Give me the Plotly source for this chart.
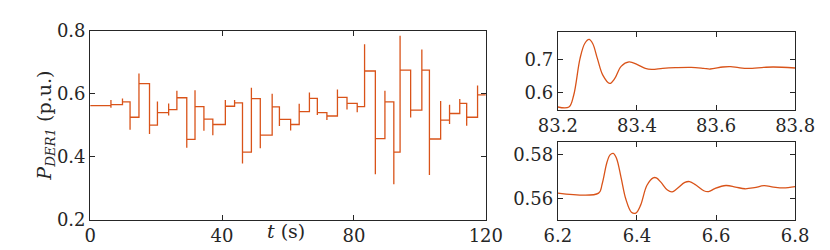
import plotly.graph_objects as go

# step events of the DER1 power reference (t in s, values in p.u.)
step_times = [6.3, 9.8, 12.1, 14.8, 18.0, 20.4, 23.8, 26.3, 29.3, 31.8, 34.5, 37.2,
              41.0, 43.8, 46.2, 48.9, 51.6, 55.2, 57.4, 60.8, 63.4, 66.5, 68.9, 71.8,
              75.0, 77.9, 81.0, 83.23, 86.5, 89.4, 92.1, 94.0, 97.2, 100.6, 102.9,
              106.3, 109.0, 112.1, 114.2, 117.5]
initial_level = 0.562
step_levels = [0.565, 0.574, 0.525, 0.632, 0.500, 0.540, 0.549, 0.587, 0.455, 0.559, 0.519, 0.502,
               0.560, 0.571, 0.414, 0.584, 0.468, 0.558, 0.518, 0.502, 0.543, 0.585, 0.540, 0.529,
               0.588, 0.569, 0.559, 0.672, 0.457, 0.574, 0.414, 0.675, 0.548, 0.675, 0.456,
               0.516, 0.537, 0.569, 0.525, 0.596]
spike_high = [0.580, 0.585, 0.574, 0.664, 0.632, 0.575, 0.569, 0.609, 0.587, 0.611, 0.548, 0.519,
              0.580, 0.580, 0.571, 0.619, 0.584, 0.600, 0.558, 0.518, 0.568, 0.604, 0.585, 0.540,
              0.613, 0.588, 0.569, 0.757, 0.672, 0.609, 0.574, 0.784, 0.675, 0.740, 0.675,
              0.577, 0.565, 0.583, 0.569, 0.626]
spike_low = [0.555, 0.565, 0.485, 0.525, 0.472, 0.500, 0.531, 0.549, 0.428, 0.455, 0.482, 0.468,
             0.502, 0.560, 0.378, 0.414, 0.427, 0.468, 0.497, 0.483, 0.502, 0.543, 0.532, 0.516,
             0.529, 0.550, 0.541, 0.559, 0.344, 0.457, 0.312, 0.414, 0.524, 0.548, 0.342,
             0.456, 0.504, 0.537, 0.498, 0.525]
t_end = 120

# zoom on the step near t = 83.2 s
zoom1_t = [83.2, 83.228, 83.240, 83.256, 83.268, 83.279, 83.288, 83.300, 83.314, 83.331,
           83.344, 83.360, 83.380, 83.401, 83.421, 83.437, 83.465, 83.497, 83.537, 83.569,
           83.585, 83.617, 83.637, 83.657, 83.681, 83.721, 83.745, 83.8]
zoom1_p = [0.558, 0.558, 0.593, 0.702, 0.747, 0.759, 0.747, 0.702, 0.652, 0.628,
           0.643, 0.679, 0.692, 0.684, 0.673, 0.670, 0.673, 0.675, 0.676, 0.673,
           0.671, 0.677, 0.678, 0.675, 0.673, 0.676, 0.677, 0.674]

# zoom on the step near t = 6.3 s
zoom2_t = [6.2, 6.303, 6.312, 6.324, 6.332, 6.340, 6.348, 6.360, 6.372, 6.386, 6.397,
           6.409, 6.425, 6.441, 6.449, 6.461, 6.477, 6.489, 6.501, 6.521, 6.533, 6.549,
           6.569, 6.581, 6.597, 6.625, 6.649, 6.673, 6.697, 6.721, 6.745, 6.770, 6.8]
zoom2_p = [0.5625, 0.5625, 0.5667, 0.5765, 0.5800, 0.5807, 0.5786, 0.5695, 0.5597, 0.5538, 0.5534,
           0.5569, 0.5660, 0.5695, 0.5695, 0.5674, 0.5639, 0.5631, 0.5645, 0.5674, 0.5678, 0.5662,
           0.5636, 0.5632, 0.5646, 0.5660, 0.5653, 0.5645, 0.5650, 0.5659, 0.5653, 0.5649, 0.5655]

line_color = '#D95319'
axis_color = '#262626'
font_family = 'DejaVu Serif'

# build the stepped trace: vertical spike at every step time
t_main = [0]
p_main = [initial_level]
prev = initial_level
for t, lvl, hi, lo in zip(step_times, step_levels, spike_high, spike_low):
    t_main += [t, t, t, t]
    p_main += [prev, hi, lo, lvl]
    prev = lvl
t_main.append(t_end)
p_main.append(prev)

fig = go.Figure()
fig.add_trace(go.Scatter(x=t_main, y=p_main, mode='lines',
                         line=dict(color=line_color, width=1.3),
                         xaxis='x', yaxis='y', showlegend=False))
fig.add_trace(go.Scatter(x=zoom1_t, y=zoom1_p, mode='lines', line_shape='spline',
                         line=dict(color=line_color, width=1.3),
                         xaxis='x2', yaxis='y2', showlegend=False))
fig.add_trace(go.Scatter(x=zoom2_t, y=zoom2_p, mode='lines', line_shape='spline',
                         line=dict(color=line_color, width=1.3),
                         xaxis='x3', yaxis='y3', showlegend=False))

axis_style = dict(showline=True, linecolor=axis_color, linewidth=1, mirror='ticks',
                  ticks='inside', ticklen=5, tickcolor=axis_color, tickwidth=1,
                  showgrid=False, zeroline=False,
                  tickfont=dict(family=font_family, size=18, color=axis_color))

fig.update_layout(
    width=830, height=250,
    margin=dict(l=0, r=0, t=0, b=0),
    paper_bgcolor='white', plot_bgcolor='white',
    font=dict(family=font_family, color=axis_color),
    xaxis=dict(domain=[0.0787, 0.5795], range=[0, 120],
               tickvals=[0, 40, 80, 120], anchor='y', **axis_style),
    yaxis=dict(domain=[0.124, 0.949], range=[0.2, 0.8],
               tickvals=[0.2, 0.4, 0.6, 0.8], ticktext=['0.2', '0.4', '0.6', '0.8'],
               anchor='x', **axis_style),
    xaxis2=dict(domain=[0.6707, 0.9711], range=[83.2, 83.8],
                tickvals=[83.2, 83.4, 83.6, 83.8], ticktext=['83.2', '83.4', '83.6', '83.8'],
                anchor='y2', **axis_style),
    yaxis2=dict(domain=[0.604, 0.943], range=[0.55, 0.781],
                tickvals=[0.6, 0.7], ticktext=['0.6', '0.7'], anchor='x2', **axis_style),
    xaxis3=dict(domain=[0.6707, 0.9711], range=[6.2, 6.8],
                tickvals=[6.2, 6.4, 6.6, 6.8], ticktext=['6.2', '6.4', '6.6', '6.8'],
                anchor='y3', **axis_style),
    yaxis3=dict(domain=[0.124, 0.463], range=[0.5504, 0.5859],
                tickvals=[0.56, 0.58], ticktext=['0.56', '0.58'], anchor='x3', **axis_style),
)

fig.add_annotation(text='<i>P</i><sub><i>DER1</i></sub> (p.u.)', xref='paper', yref='paper',
                   x=0.022, y=0.536, textangle=-90, showarrow=False,
                   xanchor='center', yanchor='middle',
                   font=dict(family=font_family, size=19, color=axis_color))
fig.add_annotation(text='<i>t</i> (s)', xref='paper', yref='paper',
                   x=0.3265, y=0.076, showarrow=False,
                   xanchor='center', yanchor='middle',
                   font=dict(family=font_family, size=19, color=axis_color))

fig.write_html("out.html")
